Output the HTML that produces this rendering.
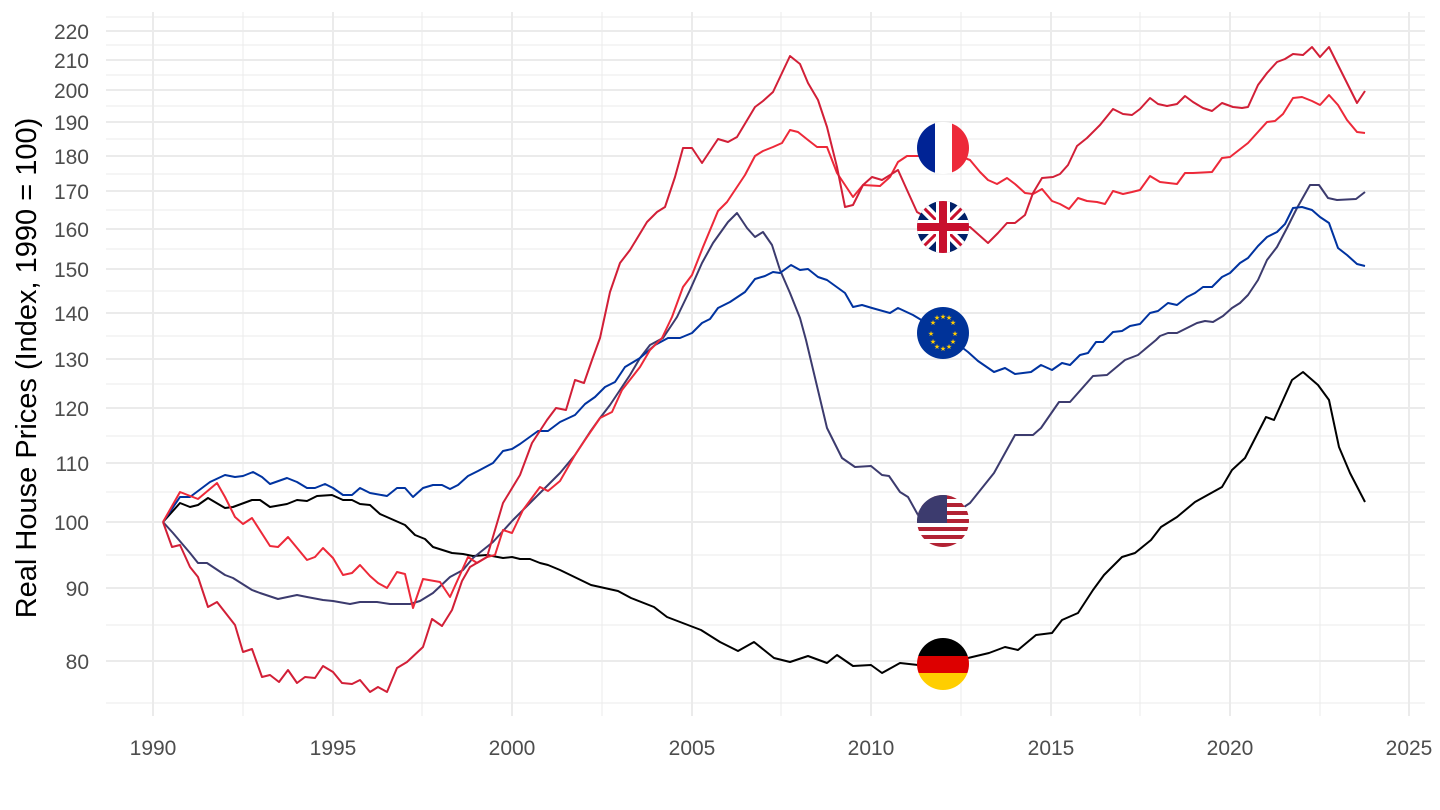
<!DOCTYPE html>
<html><head><meta charset="utf-8"><style>
html,body{margin:0;padding:0;background:#fff;}
svg{display:block;font-family:"Liberation Sans",Arial,sans-serif;}
</style></head><body>
<svg width="1440" height="810" viewBox="0 0 1440 810" xmlns="http://www.w3.org/2000/svg">
<defs>
<clipPath id="c1"><circle cx="943" cy="148" r="26"/></clipPath>
<clipPath id="c2"><circle cx="943" cy="227" r="26"/></clipPath>
<clipPath id="c3"><circle cx="943" cy="333" r="26"/></clipPath>
<clipPath id="c4"><circle cx="943" cy="521" r="26"/></clipPath>
<clipPath id="c5"><circle cx="943" cy="664" r="26"/></clipPath>
</defs>
<rect width="1440" height="810" fill="#fff"/>
<g stroke="#ebebeb" stroke-width="1">
<line x1="106" x2="1425" y1="703" y2="703"/>
<line x1="106" x2="1425" y1="625" y2="625"/>
<line x1="106" x2="1425" y1="555" y2="555"/>
<line x1="106" x2="1425" y1="492" y2="492"/>
<line x1="106" x2="1425" y1="436" y2="436"/>
<line x1="106" x2="1425" y1="384" y2="384"/>
<line x1="106" x2="1425" y1="336" y2="336"/>
<line x1="106" x2="1425" y1="291" y2="291"/>
<line x1="106" x2="1425" y1="249" y2="249"/>
<line x1="106" x2="1425" y1="210" y2="210"/>
<line x1="106" x2="1425" y1="174" y2="174"/>
<line x1="106" x2="1425" y1="139" y2="139"/>
<line x1="106" x2="1425" y1="106" y2="106"/>
<line x1="106" x2="1425" y1="75" y2="75"/>
<line x1="106" x2="1425" y1="45" y2="45"/>
<line x1="106" x2="1425" y1="17" y2="17"/>
<line x1="243" x2="243" y1="12" y2="716"/>
<line x1="422" x2="422" y1="12" y2="716"/>
<line x1="602" x2="602" y1="12" y2="716"/>
<line x1="781" x2="781" y1="12" y2="716"/>
<line x1="961" x2="961" y1="12" y2="716"/>
<line x1="1140" x2="1140" y1="12" y2="716"/>
<line x1="1320" x2="1320" y1="12" y2="716"/>
</g>
<g stroke="#ebebeb" stroke-width="2">
<line x1="106" x2="1425" y1="661" y2="661"/>
<line x1="106" x2="1425" y1="588" y2="588"/>
<line x1="106" x2="1425" y1="522" y2="522"/>
<line x1="106" x2="1425" y1="463" y2="463"/>
<line x1="106" x2="1425" y1="408" y2="408"/>
<line x1="106" x2="1425" y1="359" y2="359"/>
<line x1="106" x2="1425" y1="313" y2="313"/>
<line x1="106" x2="1425" y1="269" y2="269"/>
<line x1="106" x2="1425" y1="229" y2="229"/>
<line x1="106" x2="1425" y1="191" y2="191"/>
<line x1="106" x2="1425" y1="156" y2="156"/>
<line x1="106" x2="1425" y1="122" y2="122"/>
<line x1="106" x2="1425" y1="90" y2="90"/>
<line x1="106" x2="1425" y1="60" y2="60"/>
<line x1="106" x2="1425" y1="31" y2="31"/>
<line x1="153" x2="153" y1="12" y2="716"/>
<line x1="333" x2="333" y1="12" y2="716"/>
<line x1="512" x2="512" y1="12" y2="716"/>
<line x1="692" x2="692" y1="12" y2="716"/>
<line x1="871" x2="871" y1="12" y2="716"/>
<line x1="1051" x2="1051" y1="12" y2="716"/>
<line x1="1230" x2="1230" y1="12" y2="716"/>
<line x1="1409" x2="1409" y1="12" y2="716"/>
</g>
<g fill="#4d4d4d" font-size="21" text-anchor="end">
<text x="89" y="669">80</text><text x="89" y="596">90</text><text x="89" y="530">100</text>
<text x="89" y="471">110</text><text x="89" y="416">120</text><text x="89" y="367">130</text>
<text x="89" y="321">140</text><text x="89" y="277">150</text><text x="89" y="237">160</text>
<text x="89" y="199">170</text><text x="89" y="164">180</text><text x="89" y="130">190</text>
<text x="89" y="98">200</text><text x="89" y="68">210</text><text x="89" y="39">220</text>
</g>
<g fill="#4d4d4d" font-size="21" text-anchor="middle">
<text x="153" y="755">1990</text><text x="333" y="755">1995</text><text x="512" y="755">2000</text>
<text x="692" y="755">2005</text><text x="871" y="755">2010</text><text x="1051" y="755">2015</text>
<text x="1230" y="755">2020</text><text x="1409" y="755">2025</text>
</g>
<text transform="translate(36,368) rotate(-90)" text-anchor="middle" font-size="29" fill="#000">Real House Prices (Index, 1990 = 100)</text>
<g fill="none" stroke-width="2" stroke-linejoin="round">
<polyline stroke="#000" points="163,522 180,503 190,507 198,505 208,498 225,508 233,507 252,500 260,500 270,507 287,504 297,500 307,501 317,496 332,495 343,500 352,500 360,504 370,505 380,514 405,525 415,535 425,539 433,547 452,553 463,554 473,556 487,555 503,558 512,557 520,559 530,559 540,563 548,565 560,570 591,585 618,591 631,598 654,607 667,617 701,630 720,642 738,651 754,642 774,658 790,662 808,656 827,663 837,655 853,666 871,665 882,673 900,663 918,665 943,664 968,658 989,653 1005,647 1018,650 1036,635 1052,633 1062,620 1078,613 1093,590 1104,575 1122,557 1135,553 1151,540 1161,527 1177,517 1195,502 1222,487 1232,470 1245,458 1266,417 1274,420 1292,380 1303,372 1318,385 1329,400 1339,447 1350,473 1365,502"/>
<polyline stroke="#3c3b6e" points="163,522 173,533 190,553 198,563 207,563 225,575 233,578 252,590 260,593 278,599 297,595 307,597 323,600 333,601 350,604 360,602 377,602 390,604 410,604 420,601 433,593 450,577 463,570 473,558 493,542 513,520 540,493 560,473 575,455 590,432 600,418 610,405 620,390 630,375 640,358 650,345 663,338 677,317 690,290 702,263 713,243 728,222 737,213 747,228 755,237 763,232 772,245 780,270 790,293 800,318 806,340 827,428 842,458 855,467 871,466 882,475 889,476 900,492 908,497 918,515 943,521 970,503 994,473 1015,435 1033,435 1041,428 1059,402 1070,402 1093,376 1107,375 1125,360 1138,355 1156,340 1160,336 1168,333 1177,333 1187,328 1197,323 1205,321 1213,322 1223,316 1232,308 1240,303 1248,295 1258,280 1267,260 1277,247 1287,228 1297,208 1310,185 1319,185 1328,198 1337,200 1356,199 1365,192"/>
<polyline stroke="#0033a0" points="163,522 180,497 190,497 210,482 225,475 235,477 243,476 253,472 262,477 270,484 287,478 297,482 307,488 315,488 325,484 333,488 343,495 352,495 360,488 370,493 387,496 397,488 405,488 413,497 423,488 433,485 442,485 450,489 458,485 468,476 478,471 493,463 503,451 512,449 520,444 538,431 548,431 560,422 575,415 585,404 595,397 605,387 615,382 625,367 640,358 655,345 668,338 680,338 692,333 702,323 710,319 718,308 730,302 745,292 755,279 765,276 773,272 780,273 791,265 800,270 808,269 818,277 827,280 845,293 853,307 862,305 872,308 890,313 898,308 913,315 918,318 943,333 968,352 978,361 994,372 1005,368 1015,374 1031,372 1041,365 1052,370 1062,363 1070,365 1080,355 1088,353 1096,342 1103,342 1113,332 1122,331 1130,326 1140,324 1150,313 1158,311 1168,303 1177,305 1187,297 1195,293 1203,287 1212,287 1222,277 1230,273 1240,263 1248,258 1258,246 1267,237 1277,232 1285,224 1293,208 1302,207 1312,210 1320,217 1329,223 1338,248 1347,255 1357,264 1365,266"/>
<polyline stroke="#ed2939" points="163,522 180,492 198,499 217,483 225,497 235,517 243,524 252,518 270,546 278,547 288,537 307,560 315,557 323,548 333,558 343,575 352,573 360,565 370,576 378,583 387,588 397,572 405,574 413,608 423,579 440,582 450,597 468,557 477,563 487,557 495,555 503,530 512,533 523,510 540,487 548,491 560,481 575,455 585,440 600,418 612,412 622,390 640,367 650,350 662,338 672,317 683,287 692,275 703,247 718,211 727,202 745,175 755,156 763,151 773,147 782,143 790,130 798,132 808,140 817,147 827,147 837,173 847,188 853,197 863,185 880,186 890,177 898,162 907,156 918,156 943,150 970,160 980,172 988,180 997,184 1007,178 1015,184 1025,193 1033,194 1042,189 1052,201 1060,204 1069,209 1078,198 1087,201 1097,202 1105,204 1113,191 1123,194 1132,192 1140,190 1150,176 1160,182 1177,184 1185,173 1193,173 1212,172 1222,158 1230,157 1248,143 1267,122 1275,121 1283,114 1293,98 1302,97 1312,101 1320,105 1329,95 1338,105 1347,120 1357,132 1365,133"/>
<polyline stroke="#d21f37" points="163,522 172,547 180,545 190,567 198,577 208,607 217,602 235,625 243,652 252,649 262,677 270,675 279,682 288,670 297,683 305,677 315,678 323,666 333,672 342,683 352,684 360,680 370,692 378,687 387,692 397,668 407,662 423,647 432,619 442,626 452,610 462,581 470,567 487,557 503,503 520,475 532,443 547,420 556,408 566,410 575,380 584,383 592,360 600,338 610,292 620,263 630,250 647,222 657,212 665,207 675,177 683,148 692,148 702,163 718,139 728,142 737,137 755,107 763,101 773,92 790,56 800,64 808,83 818,100 827,127 837,167 845,207 853,205 863,185 872,177 882,180 898,170 907,190 917,212 943,227 970,227 988,243 998,233 1007,223 1015,223 1025,215 1033,193 1042,178 1053,177 1060,174 1068,165 1077,146 1087,138 1100,125 1113,109 1123,114 1132,115 1140,109 1150,98 1158,104 1167,106 1177,104 1185,96 1193,102 1203,108 1212,111 1222,103 1233,107 1242,108 1248,107 1258,85 1267,73 1277,62 1285,59 1293,54 1303,55 1312,47 1320,57 1329,47 1337,63 1347,83 1357,103 1365,91"/>
</g>
<g clip-path="url(#c1)">
<rect x="917" y="122" width="18" height="52" fill="#002395"/>
<rect x="935" y="122" width="17" height="52" fill="#fff"/>
<rect x="952" y="122" width="18" height="52" fill="#ed2939"/>
</g>
<g clip-path="url(#c2)">
<rect x="917" y="201" width="52" height="52" fill="#012169"/>
<path d="M917,201 L969,253 M969,201 L917,253" stroke="#fff" stroke-width="10"/>
<path d="M917,201 L969,253 M969,201 L917,253" stroke="#c8102e" stroke-width="3"/>
<path d="M943,201 V253 M917,227 H969" stroke="#fff" stroke-width="14"/>
<path d="M943,201 V253 M917,227 H969" stroke="#c8102e" stroke-width="8"/>
</g>
<g clip-path="url(#c3)">
<rect x="917" y="307" width="52" height="52" fill="#003399"/>
<g fill="#ffcc00" font-size="7" text-anchor="middle">
<text x="943" y="319">★</text><text x="949" y="320">★</text><text x="953" y="325">★</text><text x="955" y="336">★</text><text x="953" y="344">★</text><text x="949" y="349">★</text><text x="943" y="351">★</text><text x="937" y="349">★</text><text x="933" y="344">★</text><text x="931" y="336">★</text><text x="933" y="325">★</text><text x="937" y="320">★</text>
</g>
</g>
<g clip-path="url(#c4)">
<rect x="917" y="495" width="52" height="52" fill="#fff"/>
<g fill="#b22234">
<rect x="917" y="495" width="52" height="4"/><rect x="917" y="503" width="52" height="4"/><rect x="917" y="511" width="52" height="4"/><rect x="917" y="519" width="52" height="4"/><rect x="917" y="527" width="52" height="4"/><rect x="917" y="535" width="52" height="4"/><rect x="917" y="543" width="52" height="4"/>
</g>
<rect x="917" y="495" width="30" height="28" fill="#3c3b6e"/>
</g>
<g clip-path="url(#c5)">
<rect x="917" y="638" width="52" height="18" fill="#000"/>
<rect x="917" y="656" width="52" height="17" fill="#dd0000"/>
<rect x="917" y="673" width="52" height="18" fill="#ffce00"/>
</g>
</svg>
</body></html>
